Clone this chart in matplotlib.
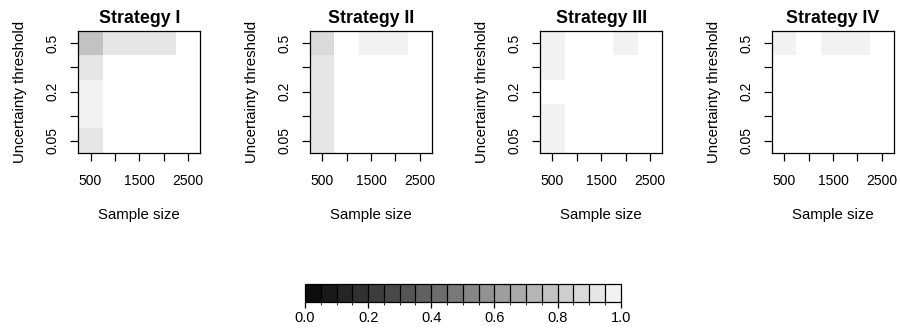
import numpy as np
import matplotlib
matplotlib.use("Agg")
import matplotlib.pyplot as plt
from matplotlib.colors import ListedColormap, BoundaryNorm
from matplotlib.cm import ScalarMappable

plt.rcParams['font.family'] = ['Liberation Sans', 'DejaVu Sans']

# data: rows = thresholds (bottom -> top), cols = sample sizes
sample_sizes = [500, 1000, 1500, 2000, 2500]
thresholds = [0.05, 0.1, 0.2, 0.3, 0.5]
x_labels = ['500', '', '1500', '', '2500']
y_labels = ['0.05', '', '0.2', '', '0.5']
titles = ['Strategy I', 'Strategy II', 'Strategy III', 'Strategy IV']

strategy_1 = [[0.92, 1.00, 1.00, 1.00, 1.00],
              [0.97, 1.00, 1.00, 1.00, 1.00],
              [0.97, 1.00, 1.00, 1.00, 1.00],
              [0.92, 1.00, 1.00, 1.00, 1.00],
              [0.77, 0.92, 0.92, 0.92, 1.00]]
strategy_2 = [[0.92, 1.00, 1.00, 1.00, 1.00],
              [0.92, 1.00, 1.00, 1.00, 1.00],
              [0.92, 1.00, 1.00, 1.00, 1.00],
              [0.92, 1.00, 1.00, 1.00, 1.00],
              [0.87, 1.00, 0.97, 0.97, 1.00]]
strategy_3 = [[0.97, 1.00, 1.00, 1.00, 1.00],
              [0.97, 1.00, 1.00, 1.00, 1.00],
              [1.00, 1.00, 1.00, 1.00, 1.00],
              [0.97, 1.00, 1.00, 1.00, 1.00],
              [0.97, 1.00, 1.00, 0.97, 1.00]]
strategy_4 = [[1.00, 1.00, 1.00, 1.00, 1.00],
              [1.00, 1.00, 1.00, 1.00, 1.00],
              [1.00, 1.00, 1.00, 1.00, 1.00],
              [1.00, 1.00, 1.00, 1.00, 1.00],
              [0.97, 1.00, 0.97, 0.97, 1.00]]
strategies = [strategy_1, strategy_2, strategy_3, strategy_4]

# 20 grey levels between 0 and 1
bounds = np.linspace(0, 1, 21)
greys = np.linspace(0.05, 0.95, 20)
cmap = ListedColormap([(g, g, g) for g in greys])
cmap.set_bad('white')
norm = BoundaryNorm(bounds, cmap.N)

W, H = 900, 332
fig = plt.figure(figsize=(W / 100, H / 100), dpi=100)

lefts = [78.3, 310, 540.3, 772]
top, side = 30.7, 122

x = np.array(sample_sizes)
x_edges = np.concatenate([x - 250, [x[-1] + 250]])
y_edges = np.arange(len(thresholds) + 1) + 0.5

for left, title, vals in zip(lefts, titles, strategies):
    ax = fig.add_axes([left / W, (H - top - side) / H, side / W, side / H])
    z = np.ma.masked_where(np.array(vals) >= 1.0, np.array(vals))
    ax.pcolormesh(x_edges, y_edges, z, cmap=cmap, norm=norm)
    ax.set_xlim(x_edges[0], x_edges[-1])
    ax.set_ylim(y_edges[0], y_edges[-1])
    ax.set_xticks(sample_sizes)
    ax.set_xticklabels(x_labels, fontsize=10)
    ax.set_yticks(np.arange(1, len(thresholds) + 1))
    ax.set_yticklabels(y_labels, fontsize=10, rotation=90, va='center')
    ax.tick_params(length=5.5, width=0.9)
    ax.tick_params(axis='x', pad=10)
    ax.tick_params(axis='y', pad=8)
    for s in ax.spines.values():
        s.set_linewidth(0.9)
    ax.set_title(title, fontsize=12.8, fontweight='bold', pad=5.5)
    ax.set_xlabel('Sample size', fontsize=10.8, labelpad=14)
    ax.set_ylabel('Uncertainty threshold', fontsize=10.8, labelpad=13)

# colour key
cax = fig.add_axes([305 / W, (H - 302.3) / H, 315.7 / W, 18.3 / H])
sm = ScalarMappable(norm=norm, cmap=cmap)
cb = fig.colorbar(sm, cax=cax, orientation='horizontal', drawedges=True)
cb.dividers.set_color('black')
cb.dividers.set_linewidth(0.9)
cb.outline.set_linewidth(0.9)
cb.set_ticks([0.0, 0.2, 0.4, 0.6, 0.8, 1.0])
cb.set_ticklabels(['0.0', '0.2', '0.4', '0.6', '0.8', '1.0'])
cax.tick_params(labelsize=10.5, length=4.5, width=0.9, pad=1.5)

fig.savefig('out.png', dpi=100)
